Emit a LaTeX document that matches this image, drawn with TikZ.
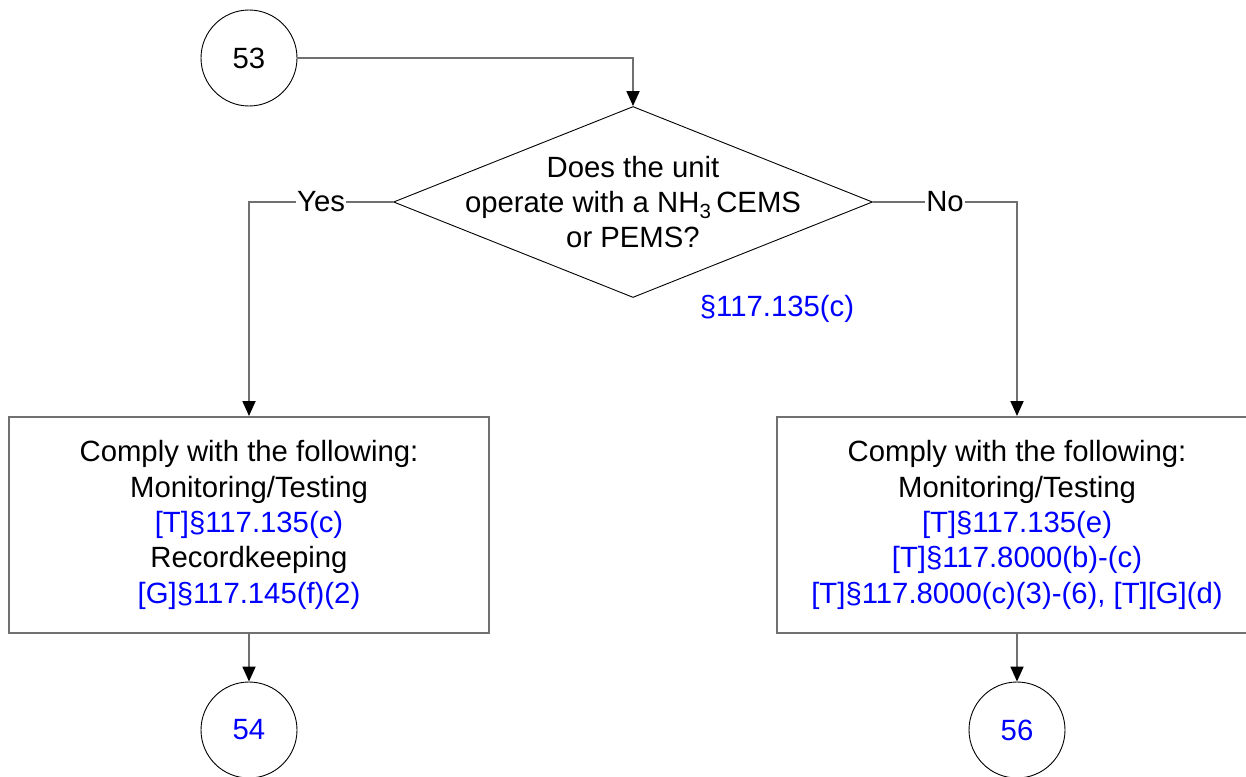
\documentclass[tikz,border=0pt]{standalone}
\usepackage{fontspec}
\setmainfont{Liberation Sans}
\usetikzlibrary{shapes.geometric,arrows.meta}
\definecolor{conngray}{RGB}{112,112,112}
\definecolor{refblue}{RGB}{0,0,255}
\tikzset{
  txt/.style={font=\fontsize{29.3}{35.3}\selectfont, align=center},
  conncircle/.style={circle, draw=black, line width=0.9pt, minimum size=96pt, inner sep=0pt, txt},
  decision/.style={diamond, draw=black, line width=0.9pt, minimum width=479pt, minimum height=191pt, inner sep=0pt},
  actionbox/.style={rectangle, draw=conngray, line width=2pt, minimum width=480pt, minimum height=216pt, inner sep=0pt, txt},
  conn/.style={draw=conngray, line width=1.8pt, -{Triangle[length=15pt,width=13pt,color=black]}},
  lbl/.style={fill=white, inner sep=1.5pt, txt},
  ref/.style={text=refblue}
}
\begin{document}
\begin{tikzpicture}[x=1pt,y=-1pt]
\useasboundingbox (0,0) rectangle (1246,776);
\node[conncircle] (c53) at (249,58) {53};
\node[decision] (dec) at (633,202) {};
\node[txt] (dectext) at (dec.center) {Does the unit\\operate with a NH\textsubscript{3}\,CEMS\\or PEMS?};
\node[txt, ref] (decref) at (777,309) {§117.135(c)};
\node[actionbox] (boxL) at (249,525) {Comply with the following:\\Monitoring/Testing\\\textcolor{refblue}{[T]§117.135(c)}\\Recordkeeping\\\textcolor{refblue}{[G]§117.145(f)(2)}};
\node[actionbox] (boxR) at (1017,525) {Comply with the following:\\Monitoring/Testing\\\textcolor{refblue}{[T]§117.135(e)}\\\textcolor{refblue}{[T]§117.8000(b)-(c)}\\\textcolor{refblue}{[T]§117.8000(c)(3)-(6), [T][G](d)}};
\node[conncircle, text=refblue] (c54) at (249,730) {54};
\node[conncircle, text=refblue] (c56) at (1017,730) {56};
\draw[conn] (c53.east) -| (dec.north);
\draw[conn] (dec.west) -| node[lbl, pos=0.25] (yes) {Yes} (boxL.north);
\draw[conn] (dec.east) -| node[lbl, pos=0.25] (no) {No} (boxR.north);
\draw[conn] (boxL.south) -- (c54.north);
\draw[conn] (boxR.south) -- (c56.north);
\end{tikzpicture}
\end{document}
